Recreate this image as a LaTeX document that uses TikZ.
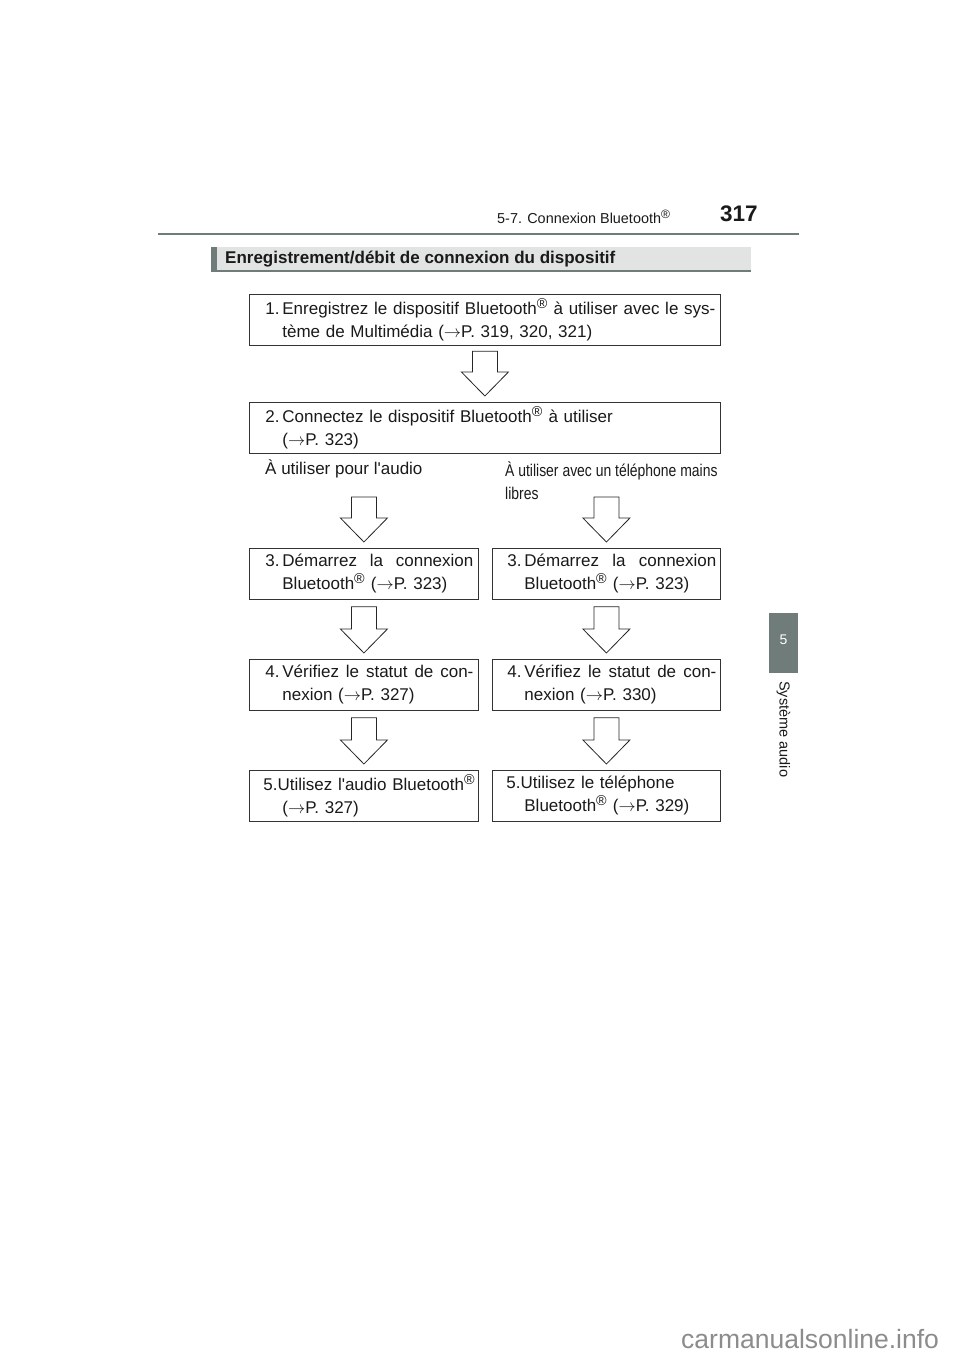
\documentclass[tikz,border=0pt]{standalone}
\usepackage{fontspec}
\setmainfont{Liberation Sans}[Ligatures=TeXOff]
\usetikzlibrary{calc}
\definecolor{hdr}{HTML}{6F7C79}
\definecolor{barfill}{HTML}{E1E4E2}
\definecolor{wm}{HTML}{8C8C8C}
\definecolor{ink}{HTML}{1A1A1A}
\newcommand{\bodyfont}{\fontsize{17bp}{23bp}\selectfont}
\newcommand{\reg}{\textsuperscript{\scalebox{1.2}{®}}}
\newcommand{\js}{\hskip 4.7bp plus 1fil\relax}
\newcommand{\ar}{\ensuremath{\rightarrow}}
\newcommand{\barrow}[2]{%
  \draw[blockarr] let \p1=(#1), \p2=(#2.north) in
    (\x2-12.5bp,\y1) -- (\x2+12.5bp,\y1) -- (\x2+12.5bp,\y2+30bp)
    -- (\x2+23.5bp,\y2+30bp) -- (\x2,\y2+6bp) -- (\x2-23.5bp,\y2+30bp)
    -- (\x2-12.5bp,\y2+30bp) -- cycle;}
\tikzset{
  stepbox/.style={draw=black!80, line width=0.8bp, inner xsep=0pt, inner ysep=0pt,
    text width=#1, align=left, minimum height=51bp, anchor=north west,
    font=\bodyfont, text=ink},
  stepbox/.default=229bp,
  blockarr/.style={draw=black!85, line width=0.8bp, fill=white, line join=miter},
  lbl/.style={inner sep=0pt, font=\bodyfont, text=ink},
}
\begin{document}
\begin{tikzpicture}[x=1bp,y=-1bp]
\useasboundingbox (0,0) rectangle (960,1358);
\fill[white] (0,0) rectangle (960,1358);

% page header
\node[anchor=base west, inner sep=0pt, text=ink] (hsec) at (497,224)
  {\fontsize{14.4bp}{18bp}\selectfont 5-7. Connexion Bluetooth\reg};
\node[anchor=base west, inner sep=0pt, text=ink] (pnum) at (720,222)
  {\fontsize{22.5bp}{26bp}\selectfont\bfseries 317};
\draw[hdr, line width=2.3bp] (158,234) -- (799,234);

% section title bar
\fill[barfill] (211,247) rectangle (751,272);
\draw[hdr, line width=1.7bp] (211,271.2) -- (751,271.2);
\fill[hdr] (211,247) rectangle (217,272);
\node[anchor=west, inner sep=0pt, text=ink] (title) at (225,259.5)
  {\fontsize{17bp}{20bp}\selectfont\bfseries Enregistrement/débit de connexion du dispositif};

% step boxes
\node[stepbox=471bp] (b1) at (249,293.5)
  {\hspace*{16bp}\makebox[17bp][l]{1.}\hbox to 433bp{Enregistrez\js le\js dispositif\js Bluetooth\reg\js à\js utiliser\js avec\js le\js sys-}\\
   \hspace*{33bp}tème de Multimédia (\ar P. 319, 320, 321)};
\node[stepbox=471bp] (b2) at (249,402)
  {\hspace*{16bp}\makebox[17bp][l]{2.}Connectez le dispositif Bluetooth\reg{} à utiliser\\
   \hspace*{33bp}(\ar P. 323)};

\node[lbl, anchor=west] (lA) at (265,469) {À utiliser pour l'audio};
\node[lbl, anchor=west, align=left] (lB) at (505,480.5)
  {\scalebox{0.82}[1]{À utiliser avec un téléphone mains}\\\scalebox{0.82}[1]{libres}};

\node[stepbox] (b3L) at (249,548)
  {\hspace*{16bp}\makebox[17bp][l]{3.}\hbox to 191bp{Démarrez\js la\js connexion}\\
   \hspace*{33bp}Bluetooth\reg{} (\ar P. 323)};
\node[stepbox=228bp] (b3R) at (492,548)
  {\hspace*{15bp}\makebox[17bp][l]{3.}\hbox to 192bp{Démarrez\js la\js connexion}\\
   \hspace*{32bp}Bluetooth\reg{} (\ar P. 323)};
\node[stepbox] (b4L) at (249,659)
  {\hspace*{16bp}\makebox[17bp][l]{4.}\hbox to 191bp{Vérifiez\js le\js statut\js de\js con-}\\
   \hspace*{33bp}nexion (\ar P. 327)};
\node[stepbox=228bp] (b4R) at (492,659)
  {\hspace*{15bp}\makebox[17bp][l]{4.}\hbox to 192bp{Vérifiez\js le\js statut\js de\js con-}\\
   \hspace*{32bp}nexion (\ar P. 330)};
\node[stepbox] (b5L) at (249,770)
  {\hspace*{14bp}5.Utilisez l'audio Bluetooth\reg\\
   \hspace*{33bp}(\ar P. 327)};
\node[stepbox=228bp] (b5R) at (492,770)
  {\hspace*{14bp}5.Utilisez le téléphone\\
   \hspace*{32bp}Bluetooth\reg{} (\ar P. 329)};

% block arrows
\coordinate (r3top) at (364,497);
\barrow{$(b1.south)+(0,6)$}{b2}
\barrow{r3top}{b3L}
\barrow{r3top}{b3R}
\barrow{$(b3L.south)+(0,7)$}{b4L}
\barrow{$(b3R.south)+(0,7)$}{b4R}
\barrow{$(b4L.south)+(0,7)$}{b5L}
\barrow{$(b4R.south)+(0,7)$}{b5R}

% side tab
\fill[hdr] (769,613) rectangle (798,673);
\node[text=white, inner sep=0pt] (tabnum) at (783.5,640) {\fontsize{14bp}{16bp}\selectfont 5};
\node[rotate=-90, anchor=west, inner sep=0pt, text=ink] (tabtxt) at (783.5,681)
  {\fontsize{14.5bp}{17bp}\selectfont Système audio};

% watermark
\node[anchor=base west, inner sep=0pt, text=wm] (wmk) at (681,1348)
  {\fontsize{26.5bp}{30bp}\selectfont carmanualsonline.info};
\end{tikzpicture}
\end{document}
